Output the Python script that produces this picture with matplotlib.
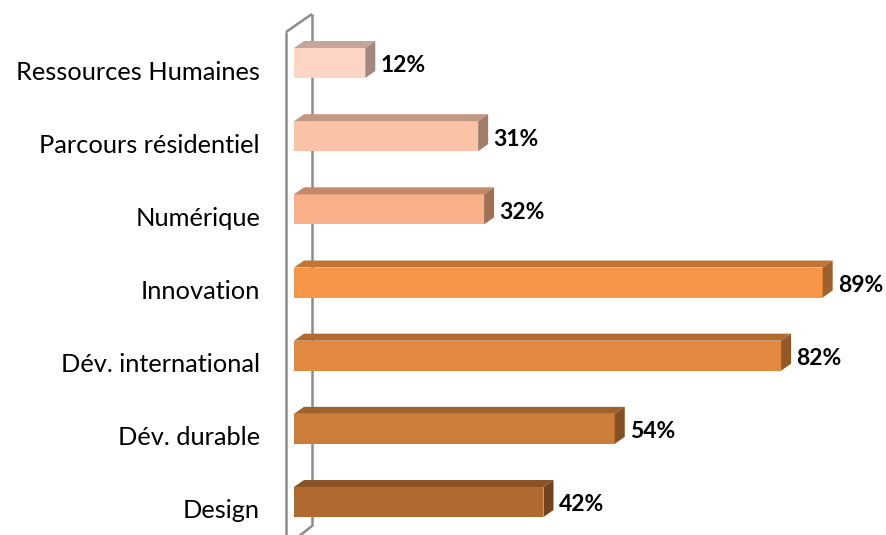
import numpy as np
import matplotlib.pyplot as plt
from matplotlib.patches import Polygon
from matplotlib.colors import to_rgb
from matplotlib.transforms import ScaledTranslation

# data, top to bottom as in the chart
categories = ['Ressources Humaines', 'Parcours résidentiel', 'Numérique',
              'Innovation', 'Dév. international', 'Dév. durable', 'Design']
values = [12, 31, 32, 89, 82, 54, 42]
colors = ['#FCD5C5', '#FAC3A7', '#F9AF87', '#F79646', '#E3893F', '#CD7D3A', '#B06A30']

W, H = 886, 535
fig = plt.figure(figsize=(W / 100, H / 100), dpi=100)

# pixel geometry of the plot area
x0_px, px_per_pct = 294, 5.94
y_first, y_last = 63, 502
step = (y_last - y_first) / (len(categories) - 1)

ax = fig.add_axes([x0_px / W, 0, (W - x0_px) / W, 1])
ax.set_xlim(0, (W - x0_px) / px_per_pct)
ax.set_ylim(-(H - y_last) / step, y_last / step)
for s in ax.spines.values():
    s.set_visible(False)
ax.set_xticks([])

n = len(categories)
ypos = np.arange(n)[::-1]  # Ressources on top

bh = 30 / step            # bar thickness
dx = 10 / px_per_pct      # depth offsets
dy = 7 / step


def shade(c, f):
    r, g, b = to_rgb(c)
    return (r * f, g * f, b * f)


# back wall lines (right one sits behind the bars)
def px2data(px, py):
    return (px - x0_px) / px_per_pct, (y_last - py) / step

xr, yt = px2data(312, 14)
_, yb = px2data(312, 526)
xl, ylt = px2data(286, 32)
_, ylb = px2data(286, 540)
xd, yd = px2data(298, 537)
wall = dict(color='#8C8C8C', lw=1.8, clip_on=False, solid_capstyle='butt')
ax.plot([xr, xr], [yt, yb], zorder=1, **wall)
ax.plot([xr, xd], [yb, yd], zorder=1, **wall)
ax.plot([xl, xr], [ylt, yt], zorder=5, **wall)
ax.plot([xl, xl], [ylt, ylb], zorder=5, **wall)

for y, v, c in zip(ypos, values, colors):
    b, t = y - bh / 2, y + bh / 2
    front = Polygon([(0, b), (v, b), (v, t), (0, t)], closed=True,
                    facecolor=c, edgecolor='none', zorder=3)
    top = Polygon([(0, t), (v, t), (v + dx, t + dy), (dx, t + dy)], closed=True,
                  facecolor=shade(c, 0.78), edgecolor='none', zorder=3)
    side = Polygon([(v, b), (v + dx, b + dy), (v + dx, t + dy), (v, t)], closed=True,
                   facecolor=shade(c, 0.64), edgecolor='none', zorder=3)
    for p in (front, top, side):
        ax.add_patch(p)
    ax.text(v + dx + 5 / px_per_pct, y - 0.04, f'{v}%', ha='left', va='center',
            fontsize=16.5, fontweight='bold', family='Lato', color='black', zorder=6)

ax.set_yticks(ypos)
ax.set_yticklabels(categories, fontsize=18.3, family='Lato')
ax.tick_params(axis='y', length=0, pad=(x0_px - 260) * 0.72)
# category labels sit a little below the bar centres in the original
shift = ScaledTranslation(0, -7 / 100, fig.dpi_scale_trans)
for lab in ax.get_yticklabels():
    lab.set_transform(lab.get_transform() + shift)

fig.savefig('out.png', dpi=100)
